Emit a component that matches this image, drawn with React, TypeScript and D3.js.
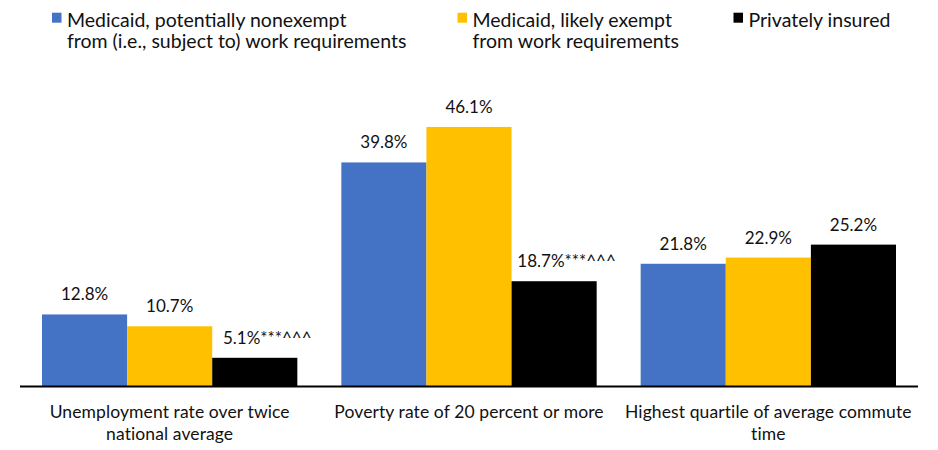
import React from 'react';
import * as d3 from 'd3';

const W = 938;
const H = 450;
const FONT = 'Lato, "Noto Sans", sans-serif';

// data
const categories = [
  ['Unemployment rate over twice', 'national average'],
  ['Poverty rate of 20 percent or more'],
  ['Highest quartile of average commute', 'time'],
];
const seriesNames = ['nonexempt', 'exempt', 'private'];
const nonexempt = [12.8, 39.8, 21.8];
const exempt = [10.7, 46.1, 22.9];
const privateIns = [5.1, 18.7, 25.2];
const privateMarks = ['***^^^', '***^^^', ''];
const legendLabels = [
  ['Medicaid, potentially nonexempt', 'from (i.e., subject to) work requirements'],
  ['Medicaid, likely exempt', 'from work requirements'],
  ['Privately insured'],
];
const colors = ['#4472C4', '#FFC000', '#000000'];

const PLOT = { left: 20, right: 918, base: 386.5, top: 105 };
const LEGEND_X = [52, 457.5, 733.5];

const App: React.FC = () => {
  const x0 = d3
    .scaleBand<number>()
    .domain(d3.range(categories.length))
    .range([PLOT.left, PLOT.right])
    .paddingInner(0.147)
    .paddingOuter(0.0735);
  const x1 = d3.scaleBand<string>().domain(seriesNames).range([0, x0.bandwidth()]);
  const y = d3.scaleLinear().domain([0, 50]).range([PLOT.base, PLOT.top]);
  const series = [nonexempt, exempt, privateIns];
  const groupW = (PLOT.right - PLOT.left) / categories.length;

  return (
    <svg
      width={W}
      height={H}
      style={{ position: 'absolute', left: 0, top: 0, background: '#fff' }}
      fontFamily={FONT}
    >
      {/* legend */}
      {legendLabels.map((lines, i) => (
        <g key={i} transform={`translate(${LEGEND_X[i]},0)`}>
          <rect x={0} y={12.7} width={9.5} height={10} fill={colors[i]} />
          {lines.map((l, j) => (
            <text key={j} x={15} y={26.7 + j * 21.6} fontSize={19.5} fill="#111">
              {l}
            </text>
          ))}
        </g>
      ))}

      {/* bars */}
      {categories.map((_, ci) => (
        <g key={ci} transform={`translate(${x0(ci)},0)`}>
          {series.map((vals, si) => {
            const v = vals[ci];
            const bx = x1(seriesNames[si])!;
            const cx = bx + x1.bandwidth() / 2;
            const mark = si === 2 ? privateMarks[ci] : '';
            return (
              <g key={si}>
                <rect
                  x={bx}
                  y={y(v)}
                  width={x1.bandwidth()}
                  height={PLOT.base - y(v)}
                  fill={colors[si]}
                />
                <text
                  x={cx}
                  dx={mark ? 12.5 : 0}
                  y={y(v) - 14}
                  textAnchor="middle"
                  fontSize={17}
                  fill="#111"
                >
                  {`${v.toFixed(1)}%${mark}`}
                </text>
              </g>
            );
          })}
        </g>
      ))}

      {/* axis line */}
      <line x1={PLOT.left} x2={PLOT.right} y1={PLOT.base} y2={PLOT.base} stroke="#000" strokeWidth={2} />

      {/* category labels */}
      {categories.map((lines, ci) => (
        <text
          key={ci}
          x={PLOT.left + groupW * (ci + 0.5)}
          y={418}
          textAnchor="middle"
          fontSize={17.5}
          letterSpacing={0.1}
          fill="#111"
        >
          {lines.map((l, j) => (
            <tspan key={j} x={PLOT.left + groupW * (ci + 0.5)} dy={j === 0 ? 0 : 21.5}>
              {l}
            </tspan>
          ))}
        </text>
      ))}
    </svg>
  );
};

export default App;
